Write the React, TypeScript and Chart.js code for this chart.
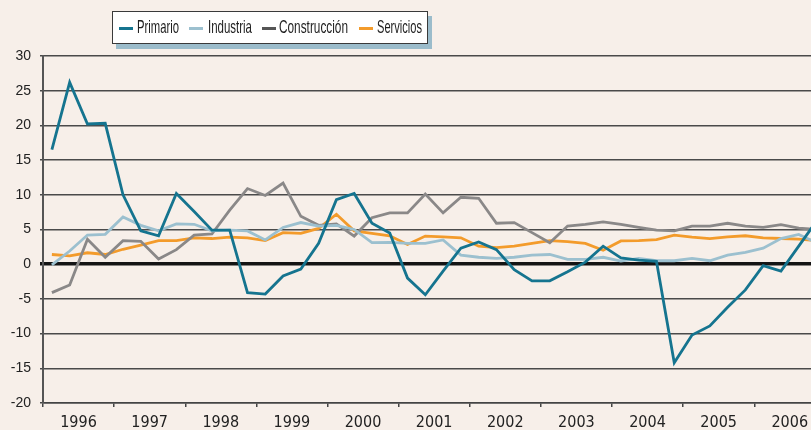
import React, { useEffect, useRef } from 'react';
import { Chart, registerables } from 'chart.js';

Chart.register(...registerables);

// Year labels (one per 4 quarters, 1996Q1 .. 2006Q4)
const years = ['1996', '1997', '1998', '1999', '2000', '2001', '2002', '2003', '2004', '2005', '2006'];

// Quarterly growth rates (%)
const primario = [
  16.5, 26.2, 20.2, 20.3,
  10.0, 4.8, 4.1, 10.2,
  7.6, 4.9, 4.9, -4.1,
  -4.3, -1.7, -0.7, 3.0,
  9.3, 10.2, 5.9, 4.5,
  -2.0, -4.4, -1.0, 2.3,
  3.2, 2.1, -0.8, -2.4,
  -2.4, -1.1, 0.3, 2.6,
  0.9, 0.6, 0.4, -14.2,
  -10.2, -8.9, -6.2, -3.7,
  -0.2, -1.0, 2.6, 6.2,
];
const industria = [
  -0.1, 1.9, 4.2, 4.3,
  6.8, 5.6, 4.8, 5.8,
  5.75, 4.8, 4.9, 4.8,
  3.5, 5.3, 6.0, 5.5,
  5.6, 5.0, 3.1, 3.15,
  3.0, 3.0, 3.5, 1.3,
  1.0, 0.85, 1.0, 1.3,
  1.4, 0.7, 0.7, 1.0,
  0.45, 0.85, 0.5, 0.5,
  0.85, 0.5, 1.3, 1.7,
  2.3, 3.7, 4.3, 3.1,
];
const construccion = [
  -4.1, -3.0, 3.6, 1.0,
  3.4, 3.3, 0.75, 2.1,
  4.2, 4.35, 7.8, 10.9,
  9.9, 11.7, 6.9, 5.6,
  5.8, 4.05, 6.7, 7.4,
  7.4, 10.1, 7.4, 9.65,
  9.5, 5.9, 6.0, 4.55,
  3.1, 5.5, 5.75, 6.1,
  5.75, 5.3, 4.9, 4.8,
  5.5, 5.5, 5.9, 5.5,
  5.3, 5.7, 5.2, 5.0,
];
const servicios = [
  1.4, 1.2, 1.65, 1.4,
  2.15, 2.75, 3.4, 3.4,
  3.8, 3.7, 3.9, 3.8,
  3.4, 4.55, 4.45, 5.15,
  7.2, 4.8, 4.45, 4.1,
  2.85, 4.05, 3.95, 3.8,
  2.6, 2.4, 2.6, 3.0,
  3.4, 3.25, 3.0, 2.0,
  3.35, 3.4, 3.55, 4.2,
  3.9, 3.7, 3.95, 4.1,
  3.8, 3.7, 3.6, 3.4,
];

const seriesNames = ['Primario', 'Industria', 'Construcción', 'Servicios'];
const lineColors = ['#15748f', '#9cc0cf', '#8a8888', '#f39b2b'];
const swatchColors = ['#15748f', '#9cc0cf', '#555555', '#f39b2b'];

const yMin = -20;
const yMax = 30;
const yStep = 5;

const BG = '#f7efe9';
const CANVAS_W = 840;
const CANVAS_H = 430;

// legend item layout (page px)
const legendItems = [
  { sw: 119, tx: 137, w: 42 },
  { sw: 189, tx: 208, w: 44 },
  { sw: 262, tx: 279, w: 69 },
  { sw: 359, tx: 377, w: 45 },
];

export default function App() {
  const ref = useRef<HTMLCanvasElement>(null);
  const textRefs = useRef<(HTMLSpanElement | null)[]>([]);

  useEffect(() => {
    // squeeze legend labels horizontally to the condensed widths of the reference
    textRefs.current.forEach((el, k) => {
      if (!el) return;
      const w = el.getBoundingClientRect().width;
      if (w > 0) el.style.transform = `scaleX(${legendItems[k].w / w})`;
    });

    const toPts = (arr: number[]) => arr.map((v, i) => ({ x: i + 0.5, y: v }));
    const all = [primario, industria, construccion, servicios];
    const chart = new Chart(ref.current as HTMLCanvasElement, {
      type: 'line',
      data: {
        datasets: all.map((arr, k) => ({
          label: seriesNames[k],
          data: toPts(arr),
          borderColor: lineColors[k],
          backgroundColor: lineColors[k],
          borderWidth: 2.8,
          pointRadius: 0,
          tension: 0,
          fill: false,
        })),
      },
      options: {
        animation: false,
        responsive: false,
        layout: { padding: { left: 0, top: 56, right: CANVAS_W - 825.4, bottom: 0 } },
        plugins: { legend: { display: false }, tooltip: { enabled: false } },
        scales: {
          x: {
            type: 'linear',
            min: 0,
            max: years.length * 4,
            afterBuildTicks: (s: any) => {
              const t = years.map((_, k) => ({ value: k * 4 }));
              t.push({ value: years.length * 4 });
              s.ticks = t;
            },
            afterFit: (s: any) => {
              s.height = 27;
            },
            grid: { drawOnChartArea: false, drawTicks: true, tickLength: 4, color: '#444', lineWidth: 1.5 },
            border: { display: true, color: '#444', width: 1.5 },
            ticks: {
              autoSkip: false,
              maxRotation: 0,
              minRotation: 0,
              labelOffset: 35.5,
              padding: 6,
              color: '#222',
              font: { family: "'Liberation Sans Narrow', 'Arial Narrow', 'DejaVu Sans Condensed', sans-serif", size: 16 },
              callback: (v: any) => years[Math.round(v / 4)] ?? '',
            },
          },
          y: {
            min: yMin,
            max: yMax,
            afterFit: (s: any) => {
              s.width = 43;
            },
            ticks: {
              stepSize: yStep,
              padding: 9,
              color: '#222',
              font: { family: "'Liberation Sans', Arial, sans-serif", size: 14 },
            },
            grid: {
              color: (c: any) => (c.tick && c.tick.value === 0 ? '#141414' : '#4a4a4a'),
              lineWidth: (c: any) => (c.tick && c.tick.value === 0 ? 3.5 : 1.5),
              tickLength: 3,
            },
            border: { display: true, color: '#555', width: 2 },
          },
        },
      },
    } as any);
    return () => chart.destroy();
  }, []);

  return (
    <div
      style={{
        position: 'fixed',
        left: 0,
        top: 0,
        width: 811,
        height: 430,
        overflow: 'hidden',
        background: BG,
      }}
    >
      <canvas ref={ref} width={CANVAS_W} height={CANVAS_H} style={{ position: 'absolute', left: 0, top: 0, width: CANVAS_W, height: CANVAS_H }} />
      <div
        style={{
          position: 'absolute',
          left: 112,
          top: 11,
          width: 316,
          height: 33,
          boxSizing: 'border-box',
          border: '1.5px solid #3a3a3a',
          background: '#ffffff',
          boxShadow: '4px 5px 0 #9bbccb',
        }}
      />
      {seriesNames.map((name, k) => (
        <React.Fragment key={name}>
          <div
            style={{
              position: 'absolute',
              left: legendItems[k].sw,
              top: 27,
              width: 14,
              height: 3,
              background: swatchColors[k],
            }}
          />
          <span
            ref={(el) => {
              textRefs.current[k] = el;
            }}
            style={{
              position: 'absolute',
              left: legendItems[k].tx,
              top: 18,
              display: 'inline-block',
              fontFamily: "'Liberation Sans Narrow', 'Liberation Sans', Arial, sans-serif",
              fontSize: 18.5,
              lineHeight: '18px',
              color: '#1e1e1e',
              whiteSpace: 'nowrap',
              transformOrigin: 'left center',
            }}
          >
            {name}
          </span>
        </React.Fragment>
      ))}
    </div>
  );
}
